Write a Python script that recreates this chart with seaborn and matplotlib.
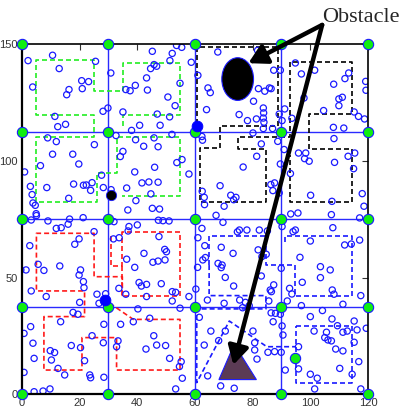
import matplotlib
matplotlib.use("Agg")
import matplotlib.pyplot as plt
import seaborn as sns
import pandas as pd
import numpy as np
from matplotlib.patches import Ellipse, Polygon

# ---- sensor node positions, one list pair per quadrant ----
nodes_tl_x = [2.1, 10.6, 12.9, 25.5, 3.7, 20.7, 23.1, 16.3, 15.5, 20.9, 28.1, 11.4, 12.4, 15.1, 8.9,
              11.9, 25.1, 10.6, 17.6, 6.4, 19.7, 0.9, 2.9, 8.6, 17.9, 21.3, 22.3, 24.3, 23.8, 3.5,
              3.8, 4.6, 4.9, 16.2, 27.6, 28.2, 29.8,
              30.8, 45.2, 53.6, 55.4, 52.1, 58.7, 51.3, 45.8, 46.7, 44.6, 43.2, 54.8, 39.3, 36.0,
              37.5, 43.5, 50.6, 53.1, 35.0, 46.9, 51.2, 40.8, 47.9, 38.0, 32.6, 52.0, 39.4, 42.2,
              45.8, 47.2, 35.0, 34.1, 53.7, 55.5, 57.9, 39.1, 46.0, 41.6, 44.0, 47.2, 36.3, 30.9,
              44.7, 39.5, 36.7, 45.2, 47.7]
nodes_tl_y = [143.0, 145.3, 139.6, 142.7, 131.7, 134.4, 134.0, 130.6, 128.4, 131.0, 121.3, 119.1, 114.7, 115.7, 109.9,
              108.3, 107.0, 102.9, 102.9, 98.0, 98.7, 95.3, 89.1, 88.6, 90.1, 89.6, 89.7, 90.7, 87.4, 85.6,
              82.0, 81.0, 77.4, 84.0, 93.9, 88.6, 122.7,
              137.7, 147.0, 149.5, 148.7, 146.1, 142.3, 143.0, 141.3, 140.6, 139.6, 135.6, 133.3, 132.4, 130.6,
              130.1, 130.4, 127.4, 123.7, 121.0, 120.1, 118.9, 115.3, 115.3, 113.1, 110.9, 111.4, 109.1, 106.3,
              109.9, 106.1, 104.1, 101.9, 99.3, 100.6, 94.4, 95.3, 97.3, 90.6, 91.0, 90.9, 88.4, 87.7,
              85.9, 83.0, 79.0, 79.7, 79.4]

nodes_tr_x = [67.9, 81.7, 61.0, 87.3, 89.6, 64.5, 65.3, 82.0, 84.2, 85.8, 86.4, 80.3, 64.0, 75.3, 78.2,
              81.3, 83.7, 83.8, 83.7, 83.9, 83.7, 86.9, 89.2, 62.4, 62.6, 80.1, 83.0, 81.4, 88.7, 89.6,
              76.7, 68.7, 62.5, 63.2, 63.3, 72.4, 74.2, 73.4, 70.1, 86.3, 87.6, 87.0, 89.2, 67.3,
              94.8, 96.9, 101.5, 113.3, 112.0, 108.1, 119.2, 119.3, 97.8, 109.9, 111.1, 109.9, 104.6, 91.1,
              90.2, 93.6, 115.2, 116.7, 118.8, 108.0, 111.6, 108.2, 90.9, 95.9, 98.4, 98.0, 99.6, 115.4,
              113.1, 108.4, 115.0, 93.1, 100.1, 107.5, 118.0, 118.6, 93.2, 95.7, 107.3, 117.1]
nodes_tr_y = [146.7, 147.4, 136.7, 138.9, 138.9, 131.3, 129.3, 131.0, 129.9, 131.3, 131.0, 125.6, 122.0, 119.9, 117.3,
              118.0, 122.7, 120.6, 118.4, 116.6, 113.9, 113.9, 120.1, 110.5, 108.9, 112.0, 107.3, 102.0, 108.4, 98.7,
              97.4, 89.4, 87.0, 84.4, 81.3, 85.3, 84.4, 83.4, 80.6, 89.9, 90.6, 87.3, 86.3, 76.7,
              142.0, 137.3, 138.9, 137.7, 135.3, 132.9, 134.1, 130.3, 127.0, 126.6, 127.3, 123.7, 121.6, 122.3,
              117.3, 118.3, 121.0, 119.1, 118.0, 114.4, 114.1, 109.6, 104.9, 103.4, 103.4, 101.0, 99.9, 103.4,
              102.0, 99.4, 96.7, 94.6, 85.3, 82.7, 86.0, 80.6, 77.3, 77.7, 77.0, 75.6]

nodes_bl_x = [0.9, 3.2, 5.0, 9.0, 11.9, 13.6, 16.0, 16.5, 21.2, 25.0, 19.8, 18.3, 2.7, 5.6, 7.6,
              13.1, -0.4, 1.4, 20.3, 19.8, 21.3, 21.5, 3.2, 8.4, 20.0, 26.0, 26.7, 29.0, 17.7, 19.4,
              13.4, 3.0, 0.7, 28.4, 3.8, 17.1, 24.3, 9.8, 11.3, 10.2, 20.3, 21.7, 4.2, 12.5, 14.8,
              23.5, 23.8, 28.4, 0.7, 4.2, 7.3, 9.7, 28.2,
              31.9, 37.1, 36.8, 40.0, 47.3, 48.9, 51.0, 31.7, 33.7, 47.5, 49.5, 50.1, 42.3, 36.3, 45.4,
              47.2, 49.6, 39.1, 60.9, 40.6, 41.4, 43.2, 48.3, 33.6, 52.1, 53.3, 43.2, 36.0, 57.9, 52.1,
              54.8, 40.2, 44.3, 38.6, 34.2, 45.7, 46.7, 49.8, 33.3, 32.8, 43.0, 51.2, 55.2, 54.6, 55.6,
              53.3]
nodes_bl_y = [75.1, 74.7, 76.6, 74.3, 71.1, 71.4, 72.9, 75.1, 75.7, 69.7, 66.6, 64.3, 63.7, 55.7, 53.1,
              55.0, 53.3, 53.3, 53.3, 51.1, 48.3, 45.7, 44.3, 41.9, 39.4, 42.9, 39.0, 43.1, 35.1, 34.3,
              31.1, 29.0, 26.1, 30.0, 21.9, 20.9, 25.1, 18.7, 17.9, 14.7, 20.0, 14.4, 15.4, 11.1, 8.3,
              8.3, 7.1, 7.3, 9.4, 1.1, 1.4, 2.3, 22.1,
              74.0, 71.9, 70.0, 72.6, 74.6, 74.4, 74.3, 66.6, 67.1, 67.6, 62.1, 61.1, 60.4, 57.9, 56.6,
              57.1, 57.6, 54.4, 54.4, 47.9, 46.4, 47.1, 47.4, 45.4, 44.0, 43.7, 41.9, 42.9, 41.9, 40.0,
              36.9, 36.6, 32.6, 31.1, 30.0, 25.1, 21.1, 20.9, 22.9, 20.4, 19.4, 15.4, 14.0, 11.9, 6.9,
              2.3]

nodes_br_x = [69.7, 62.4, 61.0, 75.4, 78.0, 82.3, 85.1, 74.7, 63.4, 69.1, 73.2, 81.9, 83.2, 84.7, 63.6,
              62.7, 68.0, 69.4, 69.1, 70.5, 83.0, 89.9, 87.3, 86.1, 86.5, 73.4, 60.3, 85.6, 64.3, 70.1,
              75.5, 77.5, 76.5, 78.8, 86.4, 87.9, 89.6, 61.5, 87.1, 90.2, 65.5, 70.5, 80.1, 68.2, 63.2,
              80.7, 80.7, 81.5, 85.3, 87.6, 89.9, 64.4, 68.9, 73.6,
              90.2, 94.0, 94.8, 107.8, 100.0, 111.9, 114.2, 117.1, 96.4, 103.5, 103.5, 106.9, 97.2, 92.8,
              93.6, 92.0, 107.6, 108.2, 117.5, 96.9, 111.3, 100.0, 104.2, 107.5, 109.4, 111.3, 112.8, 115.2,
              116.2, 119.4, 101.3, 105.6, 105.0, 106.1, 107.3, 90.5, 95.9, 115.2, 108.8, 111.3, 116.8, 110.2,
              91.3, 95.9, 100.0, 102.4, 114.5, 101.5, 117.5]
nodes_br_y = [73.7, 71.1, 67.1, 70.4, 70.4, 70.4, 70.0, 69.6, 63.7, 63.0, 60.4, 61.9, 59.0, 60.0, 58.6,
              57.6, 56.1, 55.4, 54.3, 50.1, 50.7, 54.0, 46.9, 44.7, 44.0, 46.4, 45.1, 40.0, 40.4, 39.0,
              40.4, 39.4, 37.1, 38.0, 34.9, 34.7, 34.3, 33.0, 31.1, 29.3, 27.1, 27.1, 27.1, 23.0, 21.1,
              22.1, 19.0, 15.1, 18.0, 18.3, 18.0, 7.9, 3.6, 2.6,
              71.9, 69.7, 70.4, 71.4, 65.7, 64.0, 64.4, 66.1, 58.7, 54.7, 50.0, 53.3, 48.0, 45.4,
              43.0, 40.0, 44.7, 42.9, 42.3, 38.0, 38.6, 33.3, 35.9, 32.3, 29.4, 26.6, 27.1, 31.4,
              27.6, 28.3, 27.1, 26.6, 24.3, 23.3, 22.9, 25.4, 20.4, 22.3, 19.4, 18.6, 14.0, 11.1,
              10.4, 10.9, 8.6, 6.9, 8.6, 2.3, 2.3]

# ---- gateways on the grid corners, plus one extra gateway ----
grid_x = [0, 30, 60, 90, 120]
grid_y = [0, 37.5, 75, 112.5, 150]
extra_gw_x = [94.7]
extra_gw_y = [15.4]

# ---- cluster heads ----
head_blue_x = [60.6, 28.8]
head_blue_y = [115.0, 40.4]
head_black_x = [30.9]
head_black_y = [85.3]

# ---- cluster outlines (dashed polylines) ----
green_paths = [
    [(34.9, 115.0), (34.9, 119.7), (54.8, 119.7), (54.8, 142.1), (34.9, 142.1), (34.9, 130.1),
     (24.9, 130.1), (24.9, 143.3), (4.9, 143.3), (4.9, 119.7), (24.9, 119.7), (24.9, 110.2),
     (4.9, 110.2), (4.9, 82.3), (25.9, 82.3), (25.9, 95.0), (32.8, 95.0), (32.8, 110.2),
     (54.8, 110.2), (54.8, 85.1), (34.6, 85.1)],
]
black_paths = [
    [(60.6, 116.0), (60.6, 148.7), (88.7, 148.7), (88.7, 114.9), (68.8, 114.9), (68.8, 105.6),
     (61.8, 105.6), (61.8, 82.4), (84.6, 82.4), (84.6, 105.1), (74.9, 105.1), (74.9, 110.1),
     (92.8, 110.1), (92.8, 142.3), (114.4, 142.3), (114.4, 120.1), (99.4, 120.1), (99.4, 105.3),
     (114.4, 105.3), (114.4, 82.4), (92.8, 82.4), (92.8, 102.4)],
]
red_paths = [
    [(54.8, 42.1), (54.8, 69.4), (34.8, 69.4), (34.8, 55.1), (30.8, 55.1), (30.8, 68.3)],
    [(34.8, 55.1), (34.8, 42.1), (54.8, 42.1)],
    [(34.8, 42.1), (34.8, 50.4), (25.0, 50.4), (25.0, 69.0), (5.0, 69.0), (5.0, 44.3), (21.7, 44.3),
     (21.7, 33.3), (7.6, 33.3), (7.6, 10.4), (20.8, 10.4), (20.8, 24.3), (32.8, 24.3), (32.8, 10.4),
     (54.8, 10.4), (54.8, 32.1), (38.6, 32.1), (29.5, 39.8)],
]
blue_paths = [
    [(64.9, 55.4), (64.9, 68.0), (84.6, 68.0), (84.6, 55.4), (94.6, 55.4), (94.6, 42.3),
     (114.4, 42.3), (114.4, 68.0), (91.3, 68.0), (91.3, 64.0)],
    [(64.9, 55.4), (64.9, 42.3), (84.6, 42.3), (84.6, 36.6), (60.6, 36.6), (60.6, 5.0),
     (71.9, 31.4), (84.9, 20.4), (95.0, 20.4)],
    [(95.0, 29.3), (114.6, 29.3), (114.6, 5.0), (95.0, 5.0), (95.0, 29.3)],
]

# ---- obstacles ----
ellipse_center = (74.8, 135.1)
ellipse_size = (11.0, 18.3)
triangle_pts = [(68.3, 6.3), (81.3, 6.3), (73.6, 21.5)]

sns.set_style("white")
plt.rcParams['font.family'] = ['Liberation Sans', 'DejaVu Sans']

fig = plt.figure(figsize=(4.06, 4.15), dpi=100)
ax = fig.add_axes([22 / 406, 1 - 394.3 / 415, 346 / 406, 350 / 415])
ax.set_xlim(0, 120)
ax.set_ylim(0, 150)

# partition grid
for gx in grid_x[1:-1]:
    ax.axvline(gx, color="#2a2aff", lw=1.0, zorder=1)
for gy in grid_y[1:-1]:
    ax.axhline(gy, color="#2a2aff", lw=1.0, zorder=1)

# cluster outlines
for paths, col in [(green_paths, "#22ee22"), (black_paths, "black"),
                   (red_paths, "#ff1a1a"), (blue_paths, "#1a1aff")]:
    for p in paths:
        xs, ys = zip(*p)
        ax.plot(xs, ys, ls=(0, (3, 1.8)), color=col, lw=1.2, zorder=2)

# sensor nodes
nodes = pd.DataFrame({
    "x": nodes_tl_x + nodes_tr_x + nodes_bl_x + nodes_br_x,
    "y": nodes_tl_y + nodes_tr_y + nodes_bl_y + nodes_br_y,
})
sns.scatterplot(data=nodes, x="x", y="y", ax=ax, marker="o", s=20,
                facecolor="none", edgecolor="#1a1aff", linewidth=0.9, zorder=3, legend=False)

# obstacles
ax.add_patch(Ellipse(ellipse_center, *ellipse_size, facecolor="black", edgecolor="#1a1aff",
                     lw=0.8, zorder=4))
ax.add_patch(Polygon(triangle_pts, closed=True, facecolor="#5b3b55", edgecolor="#1a1aff",
                     lw=0.8, zorder=4))

# gateways
gx, gy = np.meshgrid(grid_x, grid_y)
gw = pd.DataFrame({"x": list(gx.ravel()) + extra_gw_x, "y": list(gy.ravel()) + extra_gw_y})
sns.scatterplot(data=gw, x="x", y="y", ax=ax, marker="o", s=55, color="#11ee11",
                edgecolor="#1a1aff", linewidth=0.8, zorder=6, clip_on=False, legend=False)

# cluster heads
heads = pd.DataFrame({"x": head_blue_x, "y": head_blue_y})
sns.scatterplot(data=heads, x="x", y="y", ax=ax, marker="o", s=60, color="#0000ff",
                edgecolor="#0000ff", zorder=7, legend=False)
hb = pd.DataFrame({"x": head_black_x, "y": head_black_y})
sns.scatterplot(data=hb, x="x", y="y", ax=ax, marker="o", s=55, color="black",
                edgecolor="#1a1aff", linewidth=0.6, zorder=7, legend=False)

# obstacle callout
start = (104.1, 158.3)
for tip in [(78.5, 141.9), (73.3, 12.6)]:
    ax.annotate("", xy=tip, xytext=start, annotation_clip=False,
                arrowprops=dict(arrowstyle="-|>,head_length=0.5,head_width=0.28", lw=3.2,
                                color="black", mutation_scale=22, shrinkA=0, shrinkB=0),
                zorder=8)
fig.text(322 / 406, 1 - 22 / 415, "Obstacle", fontsize=16, family="Liberation Serif",
         va="baseline", ha="left")

ax.set_xticks([0, 20, 40, 60, 80, 100, 120])
ax.set_yticks([0, 50, 100, 150])
ax.tick_params(direction="in", length=4, width=0.8, labelsize=8, colors="#333333",
               top=True, right=True, pad=3)
ax.set_xlabel("")
ax.set_ylabel("")
for side, sp in ax.spines.items():
    sp.set_color("black")
    sp.set_linewidth(1.6 if side in ("left", "bottom") else 1.2)
    sp.set_zorder(5)

fig.savefig("out.png", dpi=100)
